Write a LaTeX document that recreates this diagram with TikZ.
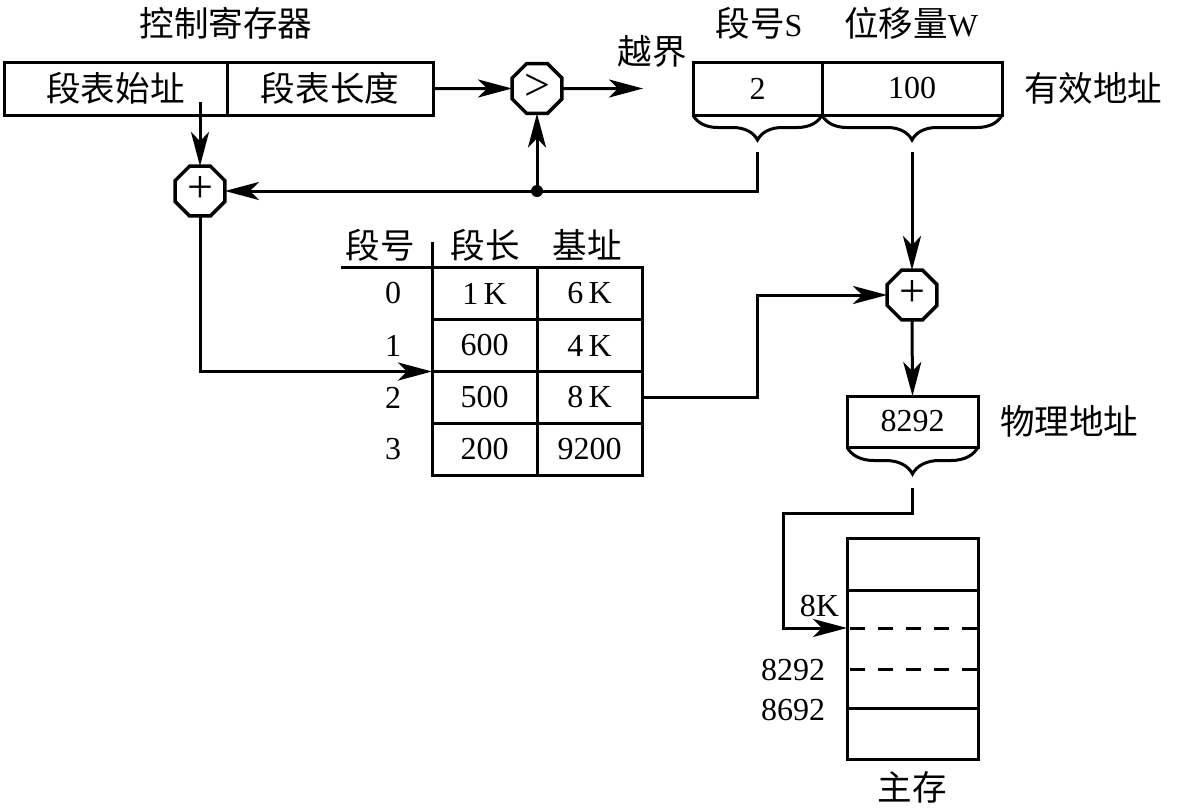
\documentclass[tikz,border=0pt]{standalone}
\usepackage{fontspec}
\setmainfont{Liberation Serif}
\newfontfamily\cjk[Scale=1.08]{Noto Sans CJK SC}
\usepackage{tikz}
\usetikzlibrary{arrows.meta,shapes,positioning,decorations.pathreplacing,calc}
\tikzstyle{every node}=[inner sep=0pt, outer sep=0pt, font=\fontsize{32}{38}\selectfont]
\tikzstyle{box}=[draw, line width=3pt, minimum height=53pt]
\tikzstyle{cell}=[draw, line width=3pt, minimum width=105pt, minimum height=52pt]
\tikzstyle{oct}=[draw, regular polygon, regular polygon sides=8, minimum size=54pt, line width=3.5pt, fill=white, font=\fontsize{46}{46}\selectfont]
\tikzstyle{arr}=[line width=3pt, -{Stealth[length=34pt,width=18pt,inset=9pt]}]
\tikzstyle{brc}=[line width=3pt, decorate, decoration={brace,mirror,amplitude=25pt}]

\begin{document}
\begin{tikzpicture}[x=1pt, y=-1pt, line width=3pt]
  \useasboundingbox (0,0) rectangle (1180,809);
  % control register
  \node (title) at (226,23) {\cjk 控制寄存器};
  \node[box, minimum width=223pt] (base) at (115.5,88.5) {\cjk 段表始址};
  \node[box, minimum width=206pt, right=0pt of base] (len) {\cjk 段表长度};
  \node[oct] (cmp) at (537,88.5) {\raisebox{2pt}{>}};
  \coordinate (ovf) at (643,88.5);
  \node (ovfl) at (652,51) {\cjk 越界};
  \draw[arr] (len.east) -- (cmp.west);
  \draw[arr] (cmp.east) -- (ovf);
  % effective address
  \node[box, minimum width=129pt] (segS) at (757.5,88.5) {2};
  \node[box, minimum width=180pt, right=0pt of segS] (segW) {100};
  \node (segSl) at (759,23) {{\cjk 段号}S};
  \node (segWl) at (911,23) {{\cjk 位移量}W};
  \node[right=22pt of segW] (eal) {\cjk 有效地址};
  \draw[brc] (segS.south west) -- (segS.south east);
  \draw[brc] (segW.south west) -- (segW.south east);
  \coordinate (sTip) at (757,152);
  \coordinate (wTip) at (912,152);
  % segment table lookup
  \node[oct] (add1) at (200,191) {\raisebox{3pt}{+}};
  \coordinate (jn) at (537,191);
  \draw[arr] ([yshift=13pt]base.south -| add1.north) -- (add1.north);
  \draw[arr] (sTip) |- (add1.east);
  \fill (jn) circle (6pt);
  \draw[arr] (jn) -- (cmp.south);
  % segment table
  \node (h1) at (380,245) {\cjk 段号};
  \node (h2) at (485,245) {\cjk 段长};
  \node (h3) at (587,245) {\cjk 基址};
  \foreach \i/\y/\l/\b in {0/293.5/1\,K/6\,K, 1/345.5/600/4\,K, 2/397.5/500/8\,K, 3/449.5/200/9200}{
    \node[cell] (len\i) at (484.5,\y) {\l};
    \node[cell, right=0pt of len\i] (bas\i) {\b};
    \node (seg\i) at (393,\y) {\i};
  }
  \draw (len0.north west) -- ++(-91,0);
  \draw (len0.north west) -- ++(0,-26);
  \draw[arr] (add1.south) |- (len2.north west);
  % physical address
  \node[oct] (add2) at (912,295) {\raisebox{3pt}{+}};
  \draw[arr] (bas2.east) -- ++(115,0) |- (add2.west);
  \draw[arr] (wTip) -- (add2.north);
  \node[box, minimum width=131pt, minimum height=51pt] (phys) at (912.5,421.5) {8292};
  \node[right=22pt of phys] (physl) {\cjk 物理地址};
  \draw[arr] (add2.south) -- (phys.north);
  \draw[brc, decoration={amplitude=27pt}] (phys.south west) -- (phys.south east);
  \coordinate (pTip) at (912,488);
  % main memory
  \node[draw, minimum width=131pt, minimum height=221pt] (mem) at (912.5,648.5) {};
  \node[below=12pt of mem] (meml) {\cjk 主存};
  \draw ($(mem.north west)+(0,52)$) -- ($(mem.north east)+(0,52)$);
  \draw[dash pattern=on 15pt off 13pt] ($(mem.north west)+(3,90)$) -- ($(mem.north east)+(0,90)$);
  \draw[dash pattern=on 15pt off 13pt] ($(mem.north west)+(3,131)$) -- ($(mem.north east)+(0,131)$);
  \draw ($(mem.north west)+(0,170)$) -- ($(mem.north east)+(0,170)$);
  \coordinate (m8k) at ($(mem.north west)+(0,90)$);
  \draw[arr] (pTip) -- ++(0,25) -| ++(-129,115) -- (m8k);
  \node[anchor=east] (a8k) at (839,606) {8K};
  \node[anchor=east] (a8292) at (825,670) {8292};
  \node[anchor=east] (a8692) at (825,710) {8692};
\end{tikzpicture}
\end{document}
